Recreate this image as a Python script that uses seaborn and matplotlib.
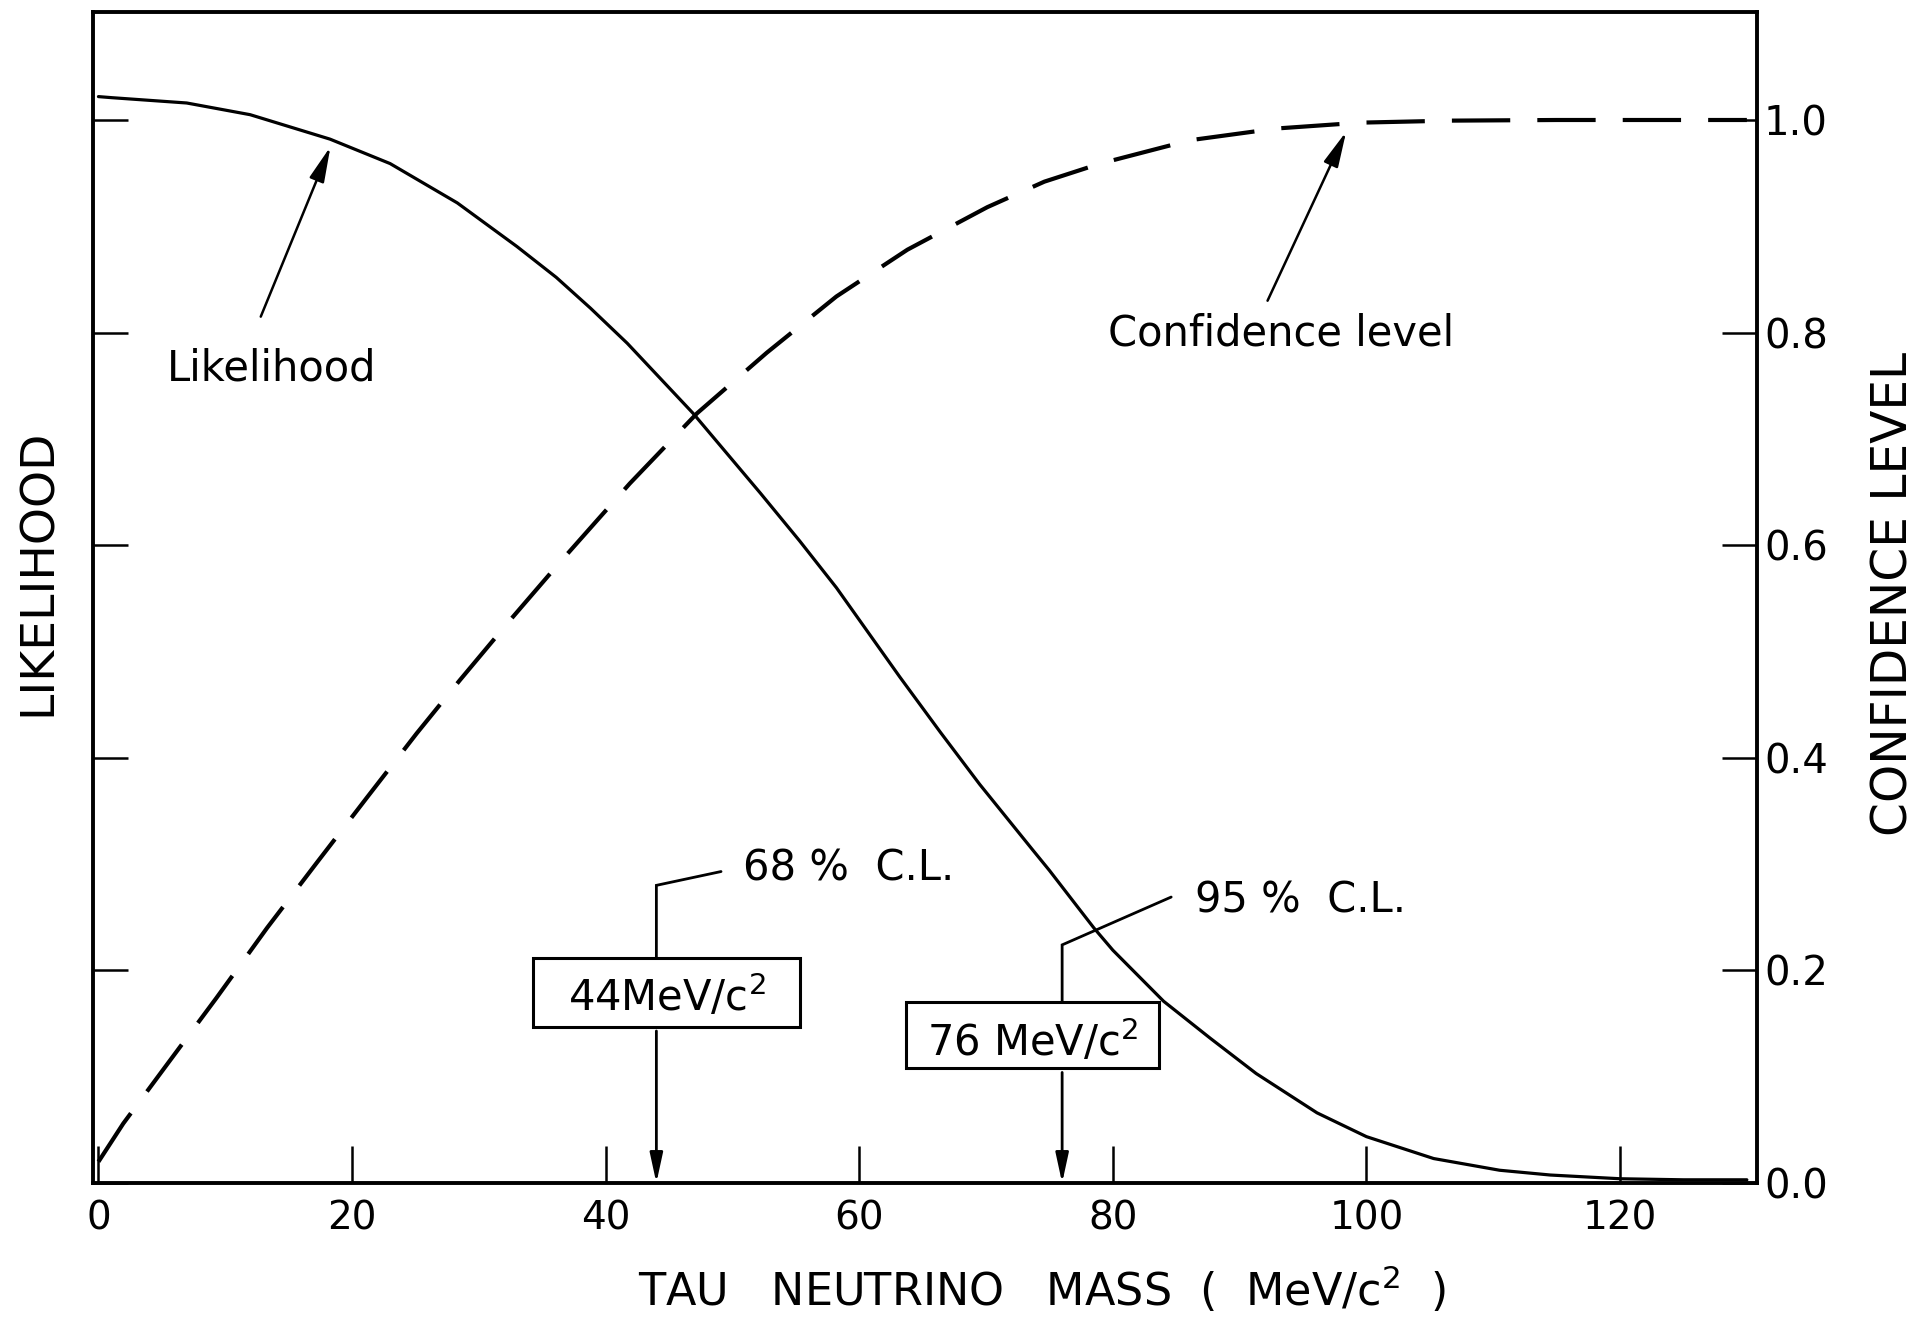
import matplotlib
matplotlib.use("Agg")
import matplotlib.pyplot as plt
import seaborn as sns
import pandas as pd
from matplotlib.patches import Rectangle

# ---- data ----
mass_lik = [0, 1.05, 6.96, 11.96, 18.26, 23.0, 28.3, 33.0, 36.1, 38.8, 41.7, 46.9,
            52.2, 55.3, 58.2, 63.2, 66.4, 69.5, 73.7, 75.0, 77.2, 78.5, 80.0, 84.0,
            87.7, 91.3, 96.1, 100.0, 105.3, 110.5, 114.5, 120, 125, 130]
likelihood = [1.022, 1.021, 1.016, 1.005, 0.982, 0.959, 0.922, 0.881, 0.852, 0.823,
              0.790, 0.724, 0.649, 0.604, 0.560, 0.476, 0.424, 0.375, 0.313, 0.294,
              0.260, 0.240, 0.219, 0.171, 0.136, 0.103, 0.066, 0.0436, 0.023, 0.012,
              0.0075, 0.004, 0.003, 0.003]

mass_cl = [0, 1.96, 5.5, 9.3, 13.3, 17.2, 21.2, 25.1, 28.5, 32.5, 36.4, 41.9, 47.2,
           52.7, 58.2, 63.8, 70.1, 74.6, 79.0, 86.1, 92.9, 99.5, 106.6, 115, 130]
conf_level = [0.02, 0.056, 0.113, 0.174, 0.240, 0.301, 0.363, 0.423, 0.473, 0.530,
              0.584, 0.658, 0.724, 0.781, 0.834, 0.878, 0.918, 0.942, 0.959, 0.981,
              0.992, 0.9975, 0.9994, 1.0, 1.0]

x_ticks = [0, 20, 40, 60, 80, 100, 120]
y_ticks = [0.0, 0.2, 0.4, 0.6, 0.8, 1.0]
y_ticklabels = ["0.0", "0.2", "0.4", "0.6", "0.8", "1.0"]
limits = [44, 76]
limit_names = ["68 %  C.L.", "95 %  C.L."]
limit_boxes = ["44MeV/c$^{2}$", "76 MeV/c$^{2}$"]

df_lik = pd.DataFrame({"mass": mass_lik, "value": likelihood})
df_cl = pd.DataFrame({"mass": mass_cl, "value": conf_level})

sns.set_style("white")
plt.rcParams["font.family"] = ["DejaVu Sans"]
for k in ["text.color", "axes.labelcolor", "xtick.color", "ytick.color", "axes.edgecolor"]:
    plt.rcParams[k] = "black"

fig = plt.figure(figsize=(19.21, 13.21), dpi=100)
ax = fig.add_axes([0.04841, 0.10447, 0.86622, 0.88645])

sns.lineplot(data=df_lik, x="mass", y="value", ax=ax, color="black", lw=2.3,
             estimator=None, sort=False)
sns.lineplot(data=df_cl, x="mass", y="value", ax=ax, color="black", lw=3.0,
             estimator=None, sort=False, linestyle=(0, (14, 6.5)))

ax.set_xlim(-0.43, 130.8)
ax.set_ylim(0, 1.1016)
ax.set_xlabel("")
ax.set_ylabel("")

for s in ax.spines.values():
    s.set_visible(True)
    s.set_linewidth(2.8)
    s.set_color("black")

ax.set_xticks(x_ticks)
ax.set_xticklabels([str(t) for t in x_ticks])
ax.set_yticks(y_ticks)
ax.set_yticklabels(y_ticklabels)
ax.tick_params(axis="x", direction="in", length=27, width=1.8, pad=12,
               labelsize=28, top=False, bottom=True)
ax.tick_params(axis="y", direction="in", length=25, width=1.8, pad=5,
               labelsize=29, left=True, right=True, labelleft=False, labelright=True)

# axis titles
fig.text(0.3321, 0.01136, "TAU   NEUTRINO   MASS  (  MeV/c$^{2}$  )",
         ha="left", va="baseline", fontsize=32)
fig.text(0.02655, 0.567, "LIKELIHOOD", rotation=90, rotation_mode="anchor",
         ha="center", va="baseline", fontsize=34)
fig.text(0.9932, 0.5503, "CONFIDENCE LEVEL", rotation=90, rotation_mode="anchor",
         ha="center", va="baseline", fontsize=35)

# curve labels with arrows
arrow_kw = dict(arrowstyle="-|>,head_length=0.6,head_width=0.13", color="black",
                lw=1.8, mutation_scale=36, shrinkA=0, shrinkB=0)
ax.text(5.43, 0.755, "Likelihood", ha="left", va="baseline", fontsize=30)
ax.annotate("", xy=(18.3, 0.975), xytext=(12.8, 0.815), arrowprops=arrow_kw)
ax.text(79.6, 0.788, "Confidence level", ha="left", va="baseline", fontsize=30)
ax.annotate("", xy=(98.4, 0.989), xytext=(92.2, 0.83), arrowprops=arrow_kw)

# C.L. limit annotations
label_pos = [(50.8, 0.285), (86.5, 0.254)]
leader_start = [(49.1, 0.293), (84.6, 0.269)]
corner_y = [0.280, 0.224]
box_geom = [(34.3, 0.147, 21.0, 0.065), (63.7, 0.108, 19.9, 0.062)]
box_text_y = [0.162, 0.119]
down_kw = dict(arrowstyle="-|>,head_length=0.6,head_width=0.13", color="black",
               lw=2.0, mutation_scale=30, shrinkA=0, shrinkB=0)
for lim, name, btxt, (lx, ly), (sx, sy), cy, (bx, by, bw, bh), ty in zip(
        limits, limit_names, limit_boxes, label_pos, leader_start, corner_y,
        box_geom, box_text_y):
    ax.text(lx, ly, name, ha="left", va="baseline", fontsize=30)
    ax.plot([sx, lim, lim], [sy, cy, by + bh], color="black", lw=2.0,
            solid_joinstyle="miter")
    ax.add_patch(Rectangle((bx, by), bw, bh, fill=False, edgecolor="black", lw=2.2))
    ax.text(bx + bw / 2, ty, btxt, ha="center", va="baseline", fontsize=30)
    ax.annotate("", xy=(lim, 0.0), xytext=(lim, by - 0.004), arrowprops=down_kw)

fig.savefig("out.png", dpi=100, facecolor="white")
